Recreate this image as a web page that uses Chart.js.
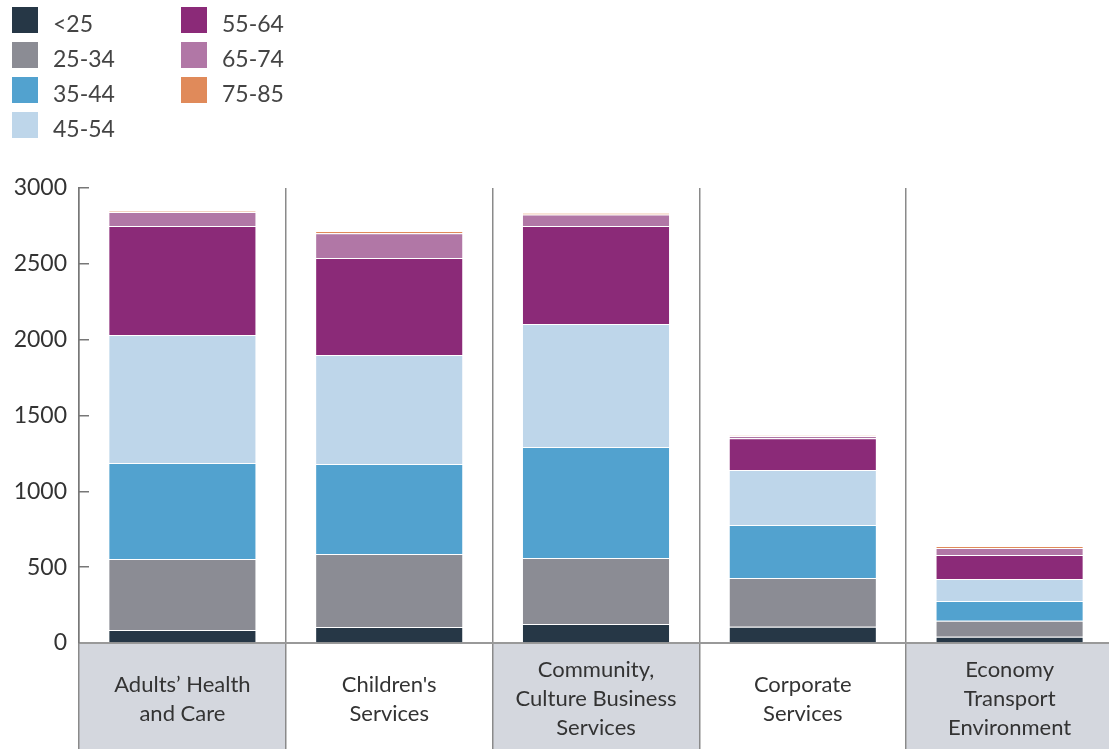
<!DOCTYPE html>
<html>
<head>
<meta charset="utf-8">
<script src="https://cdn.jsdelivr.net/npm/chart.js@4.4.1/dist/chart.umd.min.js"></script>
<style>
  html, body { margin: 0; padding: 0; background: #fff; overflow: hidden; width: 1109px; height: 749px; }
  #wrap { position: relative; width: 1113px; height: 749px; }
  #legend { position: absolute; left: 0; top: 0; font-family: Lato, "Open Sans", sans-serif; font-size: 23px; color: #444; }
  .item { position: absolute; height: 26px; line-height: 26px; white-space: nowrap; }
  .item span.box { position: absolute; left: 0; top: 0; width: 26px; height: 26px; }
  .item span.txt { position: absolute; left: 41px; top: 3px; }
  canvas { position: absolute; left: 0; top: 0; }
</style>
</head>
<body>
<div id="wrap">
  <canvas id="c" width="1113" height="749"></canvas>
  <div id="legend"></div>
</div>
<script>
const categories = [
  ["Adults\u2019 Health", "and Care"],
  ["Children's", "Services"],
  ["Community,", "Culture Business", "Services"],
  ["Corporate", "Services"],
  ["Economy", "Transport", "Environment"]
];
const seriesNames = ["<25", "25-34", "35-44", "45-54", "55-64", "65-74", "75-85"];
const under25  = [86, 105, 125, 107, 42];
const age25_34 = [468, 482, 435, 322, 105];
const age35_44 = [633, 593, 732, 349, 130];
const age45_54 = [844, 719, 811, 363, 145];
const age55_64 = [718, 639, 646, 209, 158];
const age65_74 = [93, 163, 76, 15, 46];
const age75_85 = [5, 15, 10, 3, 14];
const yTicks = [0, 500, 1000, 1500, 2000, 2500, 3000];

const colors = ["#263746", "#8b8c94", "#52a2cf", "#bed6ea", "#8b2a78", "#b177a6", "#e08a5a"];
const seriesValues = [under25, age25_34, age35_44, age45_54, age55_64, age65_74, age75_85];

// legend (HTML, two columns)
const legend = document.getElementById('legend');
const legendPos = [[12, 7], [12, 42], [12, 77], [12, 112], [181, 7], [181, 42], [181, 77]];
seriesNames.forEach((n, i) => {
  const d = document.createElement('div');
  d.className = 'item';
  d.style.left = legendPos[i][0] + 'px';
  d.style.top = legendPos[i][1] + 'px';
  const b = document.createElement('span'); b.className = 'box'; b.style.background = colors[i];
  const t = document.createElement('span'); t.className = 'txt'; t.textContent = n;
  d.appendChild(b); d.appendChild(t);
  legend.appendChild(d);
});

const bands = {
  id: 'bands',
  beforeDraw(chart) {
    const ctx = chart.ctx, x = chart.scales.x, area = chart.chartArea;
    const w = x.width / categories.length;
    ctx.save();
    ctx.fillStyle = '#fff';
    ctx.fillRect(0, 0, chart.width, chart.height);
    ctx.fillStyle = '#d4d7de';
    categories.forEach((c, i) => {
      if (i % 2 === 0) {
        const cx = x.getPixelForValue(i);
        ctx.fillRect(cx - w / 2, area.bottom, w, chart.height - area.bottom);
      }
    });
    ctx.restore();
  }
};

new Chart(document.getElementById('c'), {
  type: 'bar',
  data: {
    labels: categories,
    datasets: seriesNames.map((n, i) => ({
      label: n,
      data: seriesValues[i],
      backgroundColor: colors[i],
      borderColor: 'rgba(255,255,255,0.75)',
      borderWidth: 1,
      barPercentage: 0.716,
      categoryPercentage: 1.0
    }))
  },
  options: {
    responsive: false,
    animation: false,
    devicePixelRatio: 1,
    layout: { padding: { top: 188, left: 0, right: 0, bottom: 0 } },
    plugins: { legend: { display: false }, tooltip: { enabled: false } },
    scales: {
      x: {
        stacked: true,
        offset: true,
        afterFit(s) { s.height = 106; },
        border: { display: true, color: '#999', width: 2 },
        grid: { offset: true, color: '#8a8a8a', lineWidth: 1.5, drawTicks: true, tickLength: 106, tickColor: '#8a8a8a' },
        ticks: {
          color: '#333',
          font: { family: 'Lato, "Open Sans", sans-serif', size: 22, lineHeight: 1.32 },
          padding: -79,
          crossAlign: 'center',
          maxRotation: 0,
          autoSkip: false
        }
      },
      y: {
        stacked: true,
        min: 0,
        max: 3000,
        afterFit(s) { s.width = 79; },
        afterBuildTicks(s) { s.ticks = yTicks.map(v => ({ value: v })); },
        border: { display: true, color: '#777', width: 1.5 },
        grid: { drawOnChartArea: false, drawTicks: true, tickLength: -10, tickColor: '#777', lineWidth: 1.5 },
        ticks: {
          color: '#333',
          font: { family: 'Lato, "Open Sans", sans-serif', size: 23 },
          padding: 22,
          callback: (v) => String(v)
        }
      }
    }
  },
  plugins: [bands]
});
</script>
</body>
</html>
